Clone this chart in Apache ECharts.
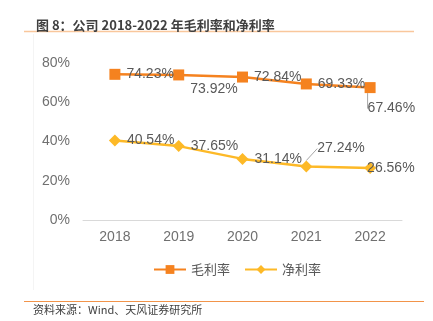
<!DOCTYPE html>
<html>
<head>
<meta charset="utf-8">
<script src="https://cdn.jsdelivr.net/npm/echarts@6/dist/echarts.min.js"></script>
<style>
  html, body { margin: 0; padding: 0; background: #fff; }
  #chart { width: 433px; height: 321px; }
</style>
</head>
<body>
<div id="chart"></div>
<script>
// 年份与两条利润率序列（%）
const years = ['2018', '2019', '2020', '2021', '2022'];
const grossMargin = [74.23, 73.92, 72.84, 69.33, 67.46];
const netMargin = [40.54, 37.65, 31.14, 27.24, 26.56];
const seriesNames = ['毛利率', '净利率'];
const titleText = '图 8：公司 2018-2022 年毛利率和净利率';
const sourceText = '资料来源：Wind、天风证券研究所';

const FONT = '"Liberation Sans", Arial, "Noto Sans CJK SC", sans-serif';
const CJK = '"Noto Sans CJK SC", "Liberation Sans", sans-serif';
const ORANGE = '#F5821F';
const GOLD = '#FDB927';
const LABEL_COLOR = '#595959';

// 标签相对默认位置（数据点右侧）的位移，以及是否带引导线
const grossShift = [[0, 0], [0, 14], [0, 0], [0, 0], [-14, 21]];
const grossGuide = [false, false, false, false, true];
const netShift = [[0, 0], [0, 0], [0, 0], [-1, -18], [-15, 0]];
const netGuide = [false, false, false, true, false];

const chart = echarts.init(document.getElementById('chart'), null, { renderer: 'canvas' });

const fmt = p => (typeof p.value === 'number' ? p.value.toFixed(2) + '%' : '');

function labelStyle(hideIdx) {
  return {
    show: true,
    position: 'right',
    distance: 6,
    formatter: p => (hideIdx && hideIdx[p.dataIndex] ? '' : fmt(p)),
    fontFamily: FONT, fontSize: 14, color: LABEL_COLOR
  };
}

function lineSeries(name, values, shift, guide, symbol, size, color) {
  return {
    name: name,
    type: 'line',
    data: values,
    symbol: symbol,
    symbolSize: size,
    itemStyle: { color: color },
    lineStyle: { color: color, width: 2.5 },
    label: labelStyle(guide),
    labelLine: { show: false },
    labelLayout: p => ({ dx: shift[p.dataIndex][0], dy: shift[p.dataIndex][1] })
  };
}

// 带引导线的标注，单独挂在透明的同值点上
function guideSeries(name, values, shift, guide, symbol, size) {
  return {
    name: name + '标注',
    type: 'line',
    data: values.map((v, i) => (guide[i] ? v : '-')),
    symbol: symbol,
    symbolSize: size,
    itemStyle: { color: 'rgba(0,0,0,0)' },
    lineStyle: { color: 'rgba(0,0,0,0)', width: 0 },
    label: labelStyle(null),
    labelLine: { show: true, lineStyle: { color: '#A6A6A6', width: 1 } },
    labelLayout: p => ({ dx: shift[p.dataIndex][0], dy: shift[p.dataIndex][1] }),
    silent: true
  };
}

chart.setOption({
  animation: false,
  backgroundColor: '#fff',
  title: {
    text: titleText,
    left: 31,
    top: 14,
    textStyle: { fontFamily: CJK, fontSize: 13, fontWeight: 'bold', color: '#404040' }
  },
  graphic: [
    { type: 'line', shape: { x1: 24, y1: 31.5, x2: 414, y2: 31.5 }, style: { stroke: '#F9C79C', lineWidth: 1.5 } },
    { type: 'line', shape: { x1: 33.5, y1: 34, x2: 33.5, y2: 290 }, style: { stroke: '#F4F4F4', lineWidth: 1 } },
    { type: 'line', shape: { x1: 24, y1: 301.5, x2: 424, y2: 301.5 }, style: { stroke: '#F2944A', lineWidth: 1 } },
    {
      type: 'text', left: 33, top: 304,
      style: { text: sourceText, font: '11px ' + CJK, fill: '#404040' }
    }
  ],
  legend: {
    left: 148,
    top: 258,
    itemWidth: 32,
    itemHeight: 11,
    itemGap: 14,
    textStyle: { fontFamily: CJK, fontSize: 13, color: LABEL_COLOR },
    data: seriesNames
  },
  grid: { left: 83, right: 31, top: 63, bottom: 101 },
  xAxis: {
    type: 'category',
    data: years,
    boundaryGap: true,
    axisLine: { lineStyle: { color: '#D9D9D9', width: 1 } },
    axisTick: { show: false },
    axisLabel: { fontFamily: FONT, fontSize: 14, color: '#707070', margin: 10 }
  },
  yAxis: {
    type: 'value',
    min: 0,
    max: 80,
    interval: 20,
    axisLine: { show: false },
    axisTick: { show: false },
    splitLine: { show: false },
    axisLabel: { formatter: '{value}%', fontFamily: FONT, fontSize: 14, color: '#707070', margin: 13 }
  },
  series: [
    lineSeries(seriesNames[0], grossMargin, grossShift, grossGuide, 'rect', 11, ORANGE),
    lineSeries(seriesNames[1], netMargin, netShift, netGuide, 'diamond', 12, GOLD),
    guideSeries(seriesNames[0], grossMargin, grossShift, grossGuide, 'rect', 11),
    guideSeries(seriesNames[1], netMargin, netShift, netGuide, 'diamond', 12)
  ]
});
</script>
</body>
</html>
